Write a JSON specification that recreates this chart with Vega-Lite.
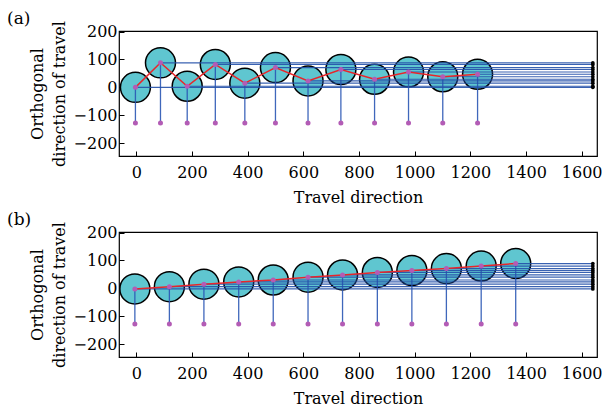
{
  "$schema": "https://vega.github.io/schema/vega-lite/v6.json",
  "padding": {"left": 6, "top": 8, "right": 5, "bottom": 2},
  "datasets": {
    "a": [
      {"x": -3, "y": 0}, {"x": 87, "y": 88}, {"x": 183, "y": 4}, {"x": 284, "y": 82},
      {"x": 390, "y": 15}, {"x": 500, "y": 71}, {"x": 617, "y": 23}, {"x": 735, "y": 64},
      {"x": 856, "y": 29}, {"x": 978, "y": 55}, {"x": 1101, "y": 38}, {"x": 1226, "y": 47}
    ],
    "b": [
      {"x": -5, "y": -2}, {"x": 119, "y": 6}, {"x": 243, "y": 15}, {"x": 368, "y": 23},
      {"x": 492, "y": 30}, {"x": 617, "y": 40}, {"x": 741, "y": 48}, {"x": 866, "y": 57},
      {"x": 990, "y": 64}, {"x": 1114, "y": 71}, {"x": 1239, "y": 80}, {"x": 1363, "y": 89}
    ]
  },
  "spacing": 3,
  "vconcat": [
    {
      "width": 478, "height": 125,
      "title": {"text": "(a)", "anchor": "start", "frame": "bounds", "dx": -22, "offset": -7},
      "data": {"name": "a"},
      "encoding": {
        "x": {"field": "x", "type": "quantitative", "scale": {"domain": [-62, 1655], "nice": false, "zero": false},
              "axis": {"values": [0, 200, 400, 600, 800, 1000, 1200, 1400, 1600], "format": "d", "title": "Travel direction"}},
        "y": {"field": "y", "type": "quantitative", "scale": {"domain": [-246, 202], "nice": false, "zero": false},
              "axis": {"values": [-200, -100, 0, 100, 200], "format": "d", "title": ["Orthogonal", "direction of travel"]}}
      },
      "layer": [
        {"mark": {"type": "point", "filled": true, "fill": "#5fc6d0", "stroke": "#000", "strokeWidth": 1.5, "size": 900, "opacity": 1, "fillOpacity": 1}},
        {"mark": {"type": "rule", "color": "#2a56b4", "strokeWidth": 1.3, "opacity": 0.9}, "encoding": {"y2": {"datum": -128}}},
        {"mark": {"type": "rule", "color": "#2450a8", "strokeWidth": 1.2, "opacity": 0.9}, "encoding": {"x2": {"datum": 1640}}},
        {"mark": {"type": "point", "filled": true, "color": "#000", "size": 14, "opacity": 1}, "encoding": {"x": {"datum": 1640, "type": "quantitative"}}},
        {"mark": {"type": "line", "color": "#e8262a", "strokeWidth": 1.5}, "encoding": {}},
        {"mark": {"type": "point", "filled": true, "color": "#b35cb5", "size": 25, "opacity": 1}},
        {"mark": {"type": "point", "filled": true, "color": "#b35cb5", "size": 25, "opacity": 1}, "encoding": {"y": {"datum": -128, "type": "quantitative"}}}
      ]
    },
    {
      "width": 478, "height": 125,
      "title": {"text": "(b)", "anchor": "start", "frame": "bounds", "dx": -22, "offset": -7},
      "data": {"name": "b"},
      "encoding": {
        "x": {"field": "x", "type": "quantitative", "scale": {"domain": [-62, 1655], "nice": false, "zero": false},
              "axis": {"values": [0, 200, 400, 600, 800, 1000, 1200, 1400, 1600], "format": "d", "title": "Travel direction"}},
        "y": {"field": "y", "type": "quantitative", "scale": {"domain": [-246, 202], "nice": false, "zero": false},
              "axis": {"values": [-200, -100, 0, 100, 200], "format": "d", "title": ["Orthogonal", "direction of travel"]}}
      },
      "layer": [
        {"mark": {"type": "point", "filled": true, "fill": "#5fc6d0", "stroke": "#000", "strokeWidth": 1.5, "size": 900, "opacity": 1, "fillOpacity": 1}},
        {"mark": {"type": "rule", "color": "#2a56b4", "strokeWidth": 1.3, "opacity": 0.9}, "encoding": {"y2": {"datum": -128}}},
        {"mark": {"type": "rule", "color": "#2450a8", "strokeWidth": 1.2, "opacity": 0.9}, "encoding": {"x2": {"datum": 1640}}},
        {"mark": {"type": "point", "filled": true, "color": "#000", "size": 14, "opacity": 1}, "encoding": {"x": {"datum": 1640, "type": "quantitative"}}},
        {"mark": {"type": "line", "color": "#e8262a", "strokeWidth": 1.5}, "encoding": {}},
        {"mark": {"type": "point", "filled": true, "color": "#b35cb5", "size": 25, "opacity": 1}},
        {"mark": {"type": "point", "filled": true, "color": "#b35cb5", "size": 25, "opacity": 1}, "encoding": {"y": {"datum": -128, "type": "quantitative"}}}
      ]
    }
  ],
  "config": {
    "font": "DejaVu Serif",
    "view": {"stroke": "#000", "strokeWidth": 1.2},
    "title": {"fontSize": 17, "fontWeight": "normal", "color": "#000", "font": "DejaVu Serif"},
    "axis": {
      "grid": false, "domain": false,
      "labelFont": "DejaVu Serif", "titleFont": "DejaVu Serif",
      "labelFontSize": 16, "titleFontSize": 16, "titleFontWeight": "normal",
      "labelColor": "#000", "titleColor": "#000", "tickColor": "#000",
      "tickSize": -5
    },
    "axisY": {"labelPadding": 7, "titlePadding": 6, "titleLineHeight": 22},
    "axisX": {"labelPadding": 13, "titlePadding": 9}
  }
}
